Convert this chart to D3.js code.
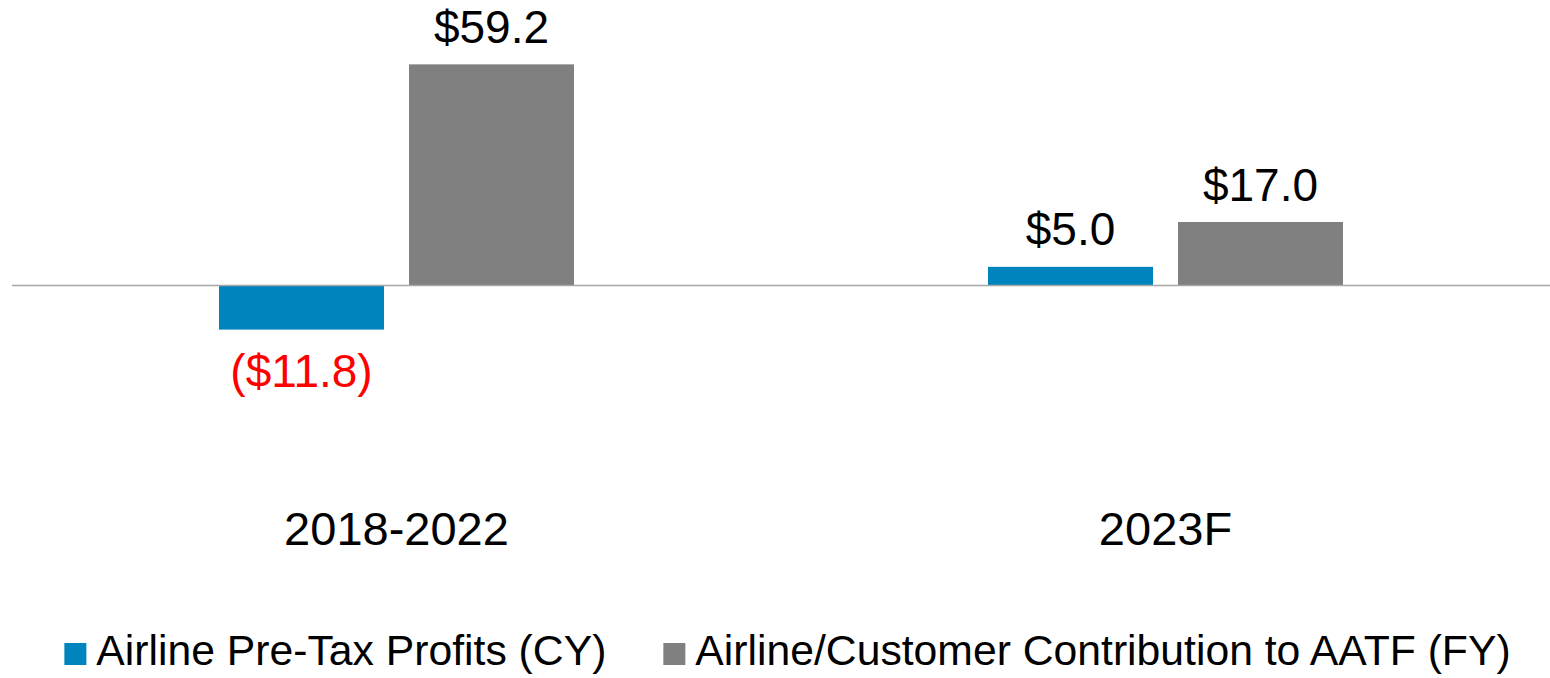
<!DOCTYPE html>
<html>
<head>
<meta charset="utf-8">
<style>
/*	page and chart styles	*/
html, body {
  margin: 0;
  padding: 0;
  background: #fff;
}

svg {
  display: block;
  font-family: "Liberation Sans", Arial, sans-serif;
}

.zero-line {
  stroke: #a6a6a6;
  stroke-width: 1.5px;
}

.value-label {
  font-size: 46px;
  text-anchor: middle;
}

.cat-label {
  font-size: 47px;
  text-anchor: middle;
  fill: #000;
}

.legend text {
  font-size: 42.7px;
  fill: #000;
}
</style>
</head>
<body>
<svg id="chart" width="1550" height="678"></svg>

<script src="https://cdn.jsdelivr.net/npm/d3@7/dist/d3.min.js"></script>
<script>
//	data
var categories = ["2018-2022", "2023F"];
var seriesNames = ["Airline Pre-Tax Profits (CY)", "Airline/Customer Contribution to AATF (FY)"];
var profits = [-11.8, 5.0];
var contributions = [59.2, 17.0];
var seriesColors = ["#0084bd", "#808080"];

var values = [profits, contributions];

function fmt(v) {
  var s = "$" + Math.abs(v).toFixed(1);
  return v < 0 ? "(" + s + ")" : s;
}

var svg = d3.select("#chart"),
    width = 1550,
    height = 678;

//	scales
var x0 = d3.scaleBand()
    .domain(categories)
    .range([12, 1550])
    .padding(0);

var groupWidth = 355;
var x1 = d3.scaleBand()
    .domain(d3.range(seriesNames.length))
    .range([0, groupWidth])
    .paddingInner(0.1316);

var y = d3.scaleLinear()
    .domain([-30, 70])
    .range([397.6, 24]);

var groupOffset = (x0.bandwidth() - groupWidth) / 2;

//	flatten bars
var bars = [];
categories.forEach(function(c, ci) {
  seriesNames.forEach(function(s, si) {
    bars.push({cat: c, series: si, value: values[si][ci]});
  });
});

var g = svg.append("g");

g.selectAll(".bar")
  .data(bars)
  .enter().append("rect")
    .attr("class", "bar")
    .attr("x", function(d) { return x0(d.cat) + groupOffset + x1(d.series); })
    .attr("width", x1.bandwidth())
    .attr("y", function(d) { return y(Math.max(0, d.value)); })
    .attr("height", function(d) { return Math.abs(y(d.value) - y(0)); })
    .attr("fill", function(d) { return seriesColors[d.series]; });

// zero line
g.append("line")
    .attr("class", "zero-line")
    .attr("x1", x0.range()[0])
    .attr("x2", x0.range()[1])
    .attr("y1", y(0))
    .attr("y2", y(0));

// value labels
g.selectAll(".value-label")
  .data(bars)
  .enter().append("text")
    .attr("class", "value-label")
    .attr("x", function(d) { return x0(d.cat) + groupOffset + x1(d.series) + x1.bandwidth() / 2; })
    .attr("y", function(d) { return d.value >= 0 ? y(d.value) - 21.5 : y(d.value) + 57.5; })
    .attr("fill", function(d) { return d.value < 0 ? "#ff0000" : "#000"; })
    .text(function(d) { return fmt(d.value); });

// category labels
g.selectAll(".cat-label")
  .data(categories)
  .enter().append("text")
    .attr("class", "cat-label")
    .attr("x", function(d) { return x0(d) + x0.bandwidth() / 2; })
    .attr("y", 545)
    .text(function(d) { return d; });

// legend
var legend = svg.append("g").attr("class", "legend");
var sw = 22, gapText = 10, gapItem = 57;

var items = legend.selectAll("g")
  .data(seriesNames)
  .enter().append("g");

items.append("rect")
    .attr("width", sw)
    .attr("height", sw)
    .attr("y", -sw)
    .attr("fill", function(d, i) { return seriesColors[i]; });

items.append("text")
    .attr("x", sw + gapText)
    .attr("y", 0)
    .text(function(d) { return d; });

var xPos = 0;
var offsets = [];
items.each(function() {
  offsets.push(xPos);
  xPos += sw + gapText + d3.select(this).select("text").node().getComputedTextLength() + gapItem;
});
var totalW = xPos - gapItem;
var startX = 787.5 - totalW / 2;

items.attr("transform", function(d, i) {
  return "translate(" + (startX + offsets[i]) + ",665)";
});
</script>
</body>
</html>
